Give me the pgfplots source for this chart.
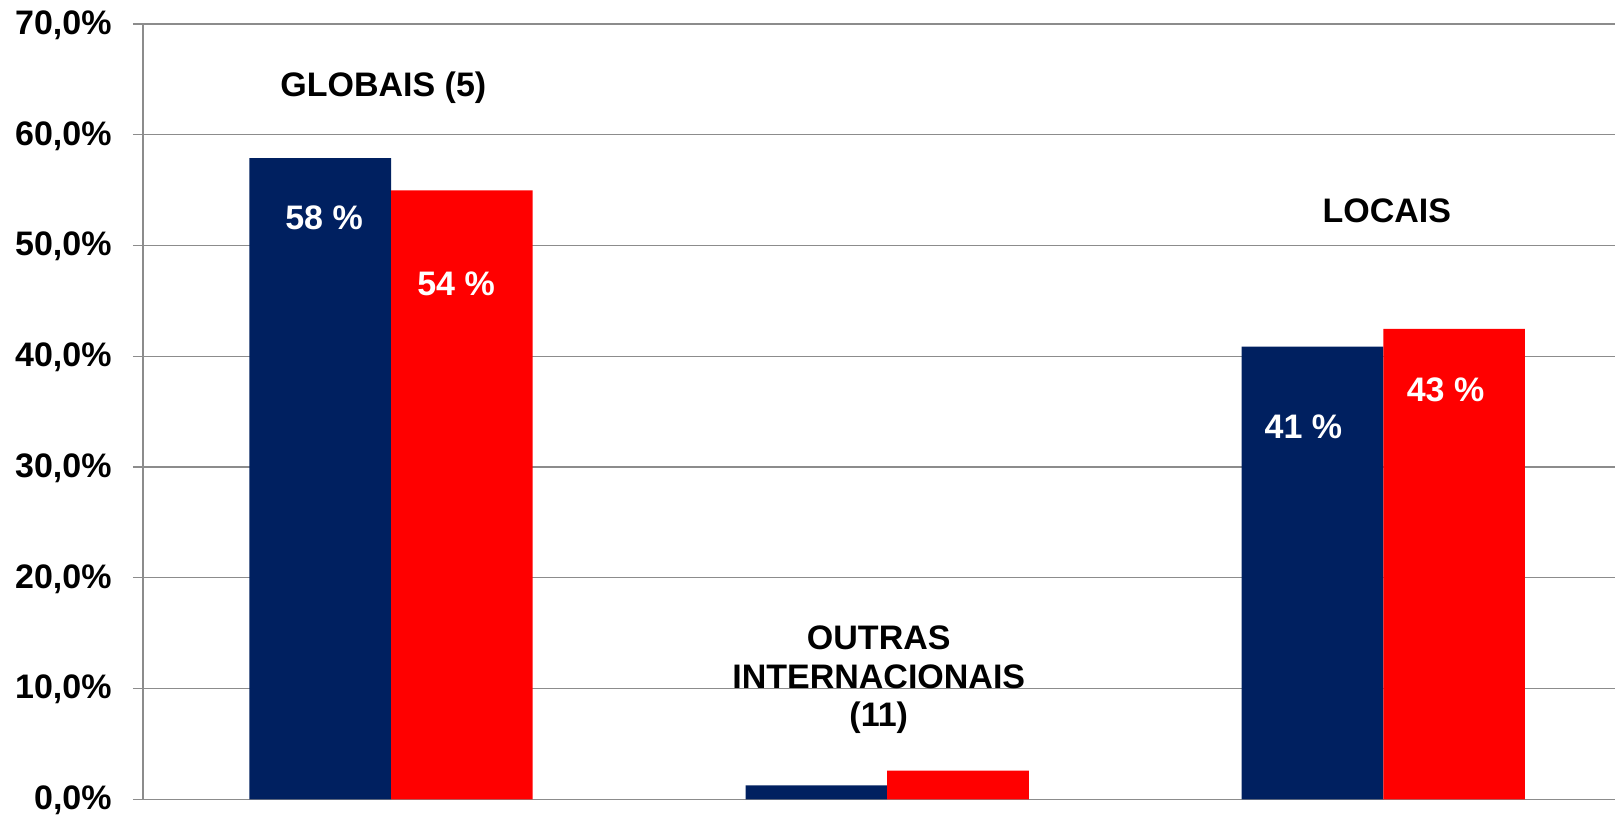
\documentclass[border=0pt]{standalone}
\usepackage{fontspec}
\setmainfont{Liberation Sans}
\usepackage{pgfplots}
\pgfplotsset{compat=1.18}
\usetikzlibrary{calc}
\definecolor{navy}{RGB}{0,32,96}
\definecolor{gridgray}{RGB}{140,140,140}
\begin{document}
\begin{tikzpicture}
\begin{axis}[
  name=ax,
  scale only axis,
  width=736pt, height=387.65pt,
  xmin=-0.5, xmax=2.467,
  ymin=0, ymax=70,
  ytick={0,10,...,70},
  xtick=\empty,
  axis y line*=left,
  axis x line*=bottom,
  axis line style={gridgray, line width=0.6pt},
  ymajorgrids,
  grid style={gridgray, line width=0.6pt},
  major tick length=5pt,
  tick align=outside,
  tick style={gridgray, line width=0.6pt},
  /pgf/number format/assume math mode=true,
  yticklabel={\pgfmathprintnumber[fixed,fixed zerofill,precision=1,use comma]{\tick}\%},
  yticklabel style={font=\bfseries\fontsize{17}{19}\selectfont, anchor=east, inner sep=0pt, xshift=-10.5pt, yshift=-0.6pt},
  ybar,
  bar width=0.2855,
  clip=false,
]
\addplot[draw=none, fill=navy, bar shift=-0.14275] coordinates {(0,57.9) (1,1.26) (2,40.86)};
\addplot[draw=none, fill=red, bar shift=0.14275] coordinates {(0,54.98) (1,2.58) (2,42.48)};
\begin{scope}[every node/.style={font=\bfseries\fontsize{17}{19.2}\selectfont, align=center}]
\node[white] at (axis cs:-0.135,52.47) {58 \%};
\node[white] at (axis cs:0.131,46.51) {54 \%};
\node[white] at (axis cs:1.839,33.66) {41 \%};
\node[white] at (axis cs:2.1255,37.01) {43 \%};
\node at (axis cs:-0.0156,64.29) {GLOBAIS (5)};
\node at (axis cs:2.007,53.12) {LOCAIS};
\node at (axis cs:0.983,10.78) {OUTRAS\\INTERNACIONAIS\\(11)};
\end{scope}
\end{axis}
\pgfresetboundingbox
\path ($(ax.south west)+(-71.5pt,-8.35pt)$) rectangle ($(ax.north east)+(0.5pt,12pt)$);
\end{tikzpicture}
\end{document}
